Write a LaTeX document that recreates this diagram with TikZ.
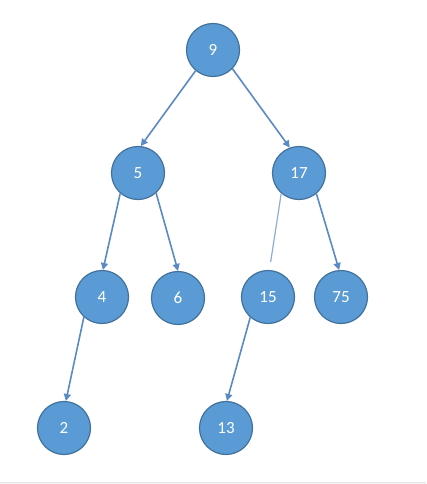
\documentclass[tikz,border=0pt]{standalone}
\usepackage{fontspec}
\setmainfont{Carlito}
\usetikzlibrary{arrows.meta}

\definecolor{nodefill}{HTML}{5B9BD5}
\definecolor{nodeline}{HTML}{41719C}
\definecolor{edgeline}{HTML}{5A8AC6}

\tikzset{
  treenode/.style={circle, fill=nodefill, draw=nodeline, line width=1.2pt,
    minimum size=53pt, inner sep=0pt, text=white, font=\fontsize{17}{20}\selectfont},
  treeedge/.style={draw=edgeline, line width=1.6pt, -{Triangle[length=7pt,width=7pt]}}
}

\begin{document}
\begin{tikzpicture}[x=1pt, y=-1pt]
      \useasboundingbox (0, 0) rectangle (426, 484);
      \fill[black!5] (0, 482) rectangle (426, 484);
      \draw[black!10, line width=0.6pt] (0, 482) -- (426, 482);

      \node[treenode] (n9) at (213, 50) {9};
      \node[treenode] (n5) at (138, 173) {5};
      \node[treenode] (n17) at (299, 173) {17};
      \node[treenode] (n4) at (102, 297) {4};
      \node[treenode] (n6) at (178, 298) {6};
      \node[treenode] (n15) at (268, 297) {15};
      \node[treenode] (n75) at (341, 297) {75};
      \node[treenode] (n2) at (64, 428) {2};
      \node[treenode] (n13) at (226, 428) {13};

      \draw[treeedge] (n9.230) -- (n5.84);
      \draw[treeedge] (n9.316) -- (n17.110);
      \draw[treeedge] (n5.229) -- (n4.88);
      \draw[treeedge] (n5.312) -- (n6.90);
      \draw[treeedge] (n17.310) -- (n75.94);
      \draw[treeedge] (n4.228) -- (n2.86);
      \draw[treeedge] (n15.229) -- (n13.88);
      %\draw[treeedge] (n17.229) -- (n15.87);
      \draw[edgeline!70, line width=1.2pt, shorten >=8pt] (n17.229) -- (n15.87);
\end{tikzpicture}
\end{document}
